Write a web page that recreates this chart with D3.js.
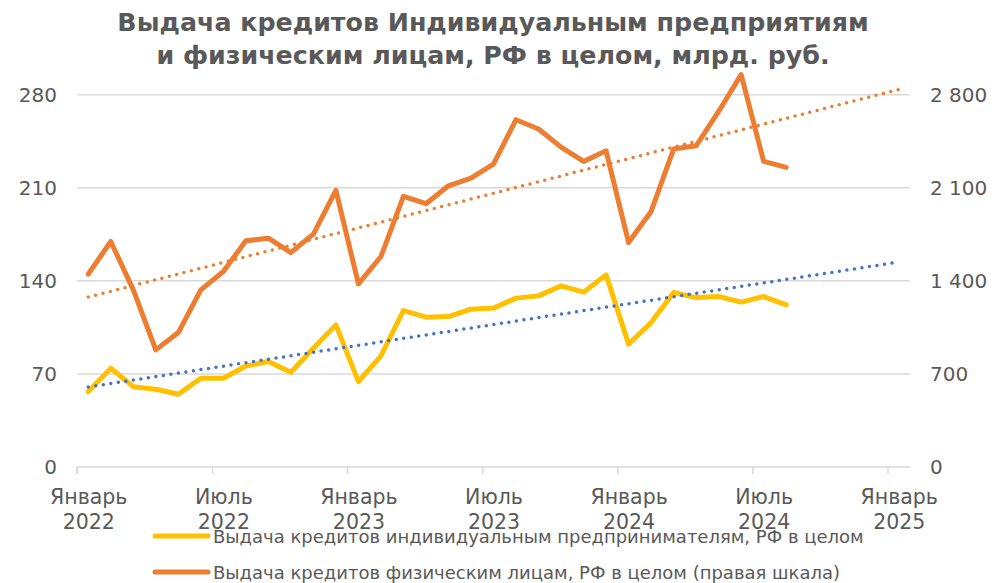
<!DOCTYPE html>
<html><head><meta charset="utf-8">
<script src="https://cdn.jsdelivr.net/npm/d3@7"></script>
<style>
html,body{margin:0;padding:0;background:#fff;}
svg{display:block;font-family:"DejaVu Sans",Verdana,sans-serif;}
</style></head>
<body><svg id="c" width="1000" height="583"></svg>
<script>
// ---- data ----
const titleLines = ["Выдача кредитов Индивидуальным предприятиям", "и физическим лицам, РФ в целом, млрд. руб."];
const months = ["2022-01","2022-02","2022-03","2022-04","2022-05","2022-06","2022-07","2022-08","2022-09","2022-10","2022-11","2022-12",
  "2023-01","2023-02","2023-03","2023-04","2023-05","2023-06","2023-07","2023-08","2023-09","2023-10","2023-11","2023-12",
  "2024-01","2024-02","2024-03","2024-04","2024-05","2024-06","2024-07","2024-08"];
const entrepreneurs = [56.7,74.3,60.4,58.5,54.7,66.8,66.8,76.0,79.3,71.3,89.3,106.9,
  64.2,83.5,117.6,112.7,113.1,118.7,119.5,127.0,128.7,136.2,131.5,144.5,
  92.4,108.6,131.2,127.4,128.2,124.0,128.2,121.9];
const individuals = [1450,1696,1332,881,1011,1332,1470,1701,1721,1613,1751,2080,
  1377,1583,2035,1980,2115,2173,2278,2612,2542,2406,2298,2378,
  1688,1922,2391,2416,2674,2951,2298,2253];
const leftTicks = [0,70,140,210,280];
const rightTicks = [0,700,1400,2100,2800];
const xTickMonths = [0,6,12,18,24,30,36];
const xTickLabels = [["Январь","2022"],["Июль","2022"],["Январь","2023"],["Июль","2023"],["Январь","2024"],["Июль","2024"],["Январь","2025"]];
const trendMonths = 37; // trend forecast through Jan 2025
const legendLabels = ["Выдача кредитов индивидуальным предпринимателям, РФ в целом",
  "Выдача кредитов физическим лицам, РФ в целом (правая шкала)"];

// ---- styles ----
const C_Y = "#FFC000", C_O = "#ED7D31", C_B = "#4472C4", C_GRID = "#D9D9D9", C_TXT = "#595959";

const svg = d3.select("#c");
const x = d3.scaleLinear().domain([0, 37]).range([77, 910]);
const yL = d3.scaleLinear().domain([0, 280]).range([467, 94.7]);
const yR = d3.scaleLinear().domain([0, 2800]).range([467, 94.7]);

// title
svg.append("g").selectAll("text").data(titleLines).join("text")
  .attr("x", 493).attr("y", (d,i)=>31 + i*33)
  .attr("text-anchor","middle").attr("font-weight","bold").attr("font-size",25.3)
  .attr("fill", C_TXT).text(d=>d);

// gridlines
svg.append("g").selectAll("line").data(leftTicks.slice(1)).join("line")
  .attr("x1", x(0)).attr("x2", x(37)).attr("y1", d=>yL(d)).attr("y2", d=>yL(d))
  .attr("stroke", C_GRID).attr("stroke-width", 1.5);

// left axis
const gl = svg.append("g").attr("transform","translate(57,0)")
  .call(d3.axisLeft(yL).tickValues(leftTicks).tickSize(0).tickPadding(0));
gl.select(".domain").remove();
gl.selectAll("text").attr("font-size",20).attr("fill",C_TXT).attr("font-family","DejaVu Sans");

// right axis
const gr = svg.append("g").attr("transform","translate(930,0)")
  .call(d3.axisRight(yR).tickValues(rightTicks).tickSize(0).tickPadding(0)
    .tickFormat(d=>d3.format(",")(d).replace(/,/g," ")));
gr.select(".domain").remove();
gr.selectAll("text").attr("font-size",20).attr("fill",C_TXT).attr("font-family","DejaVu Sans");

// x axis
const gx = svg.append("g").attr("transform",`translate(0,${yL(0)})`)
  .call(d3.axisBottom(x).tickValues(xTickMonths).tickSize(7).tickFormat(""));
gx.select(".domain").attr("stroke",C_GRID).attr("stroke-width",1.5).attr("d",`M${x(0)},7V0H${x(37)}`);
gx.selectAll(".tick line").attr("stroke",C_GRID).attr("stroke-width",1.5);
const halfMonth = x(0.5) - x(0);
gx.selectAll(".tick").each(function(d,i){
  const t = d3.select(this).append("text").attr("fill",C_TXT).attr("font-size",20.5)
    .attr("text-anchor","middle").attr("font-family","DejaVu Sans");
  t.append("tspan").attr("x",halfMonth).attr("y",36.5).text(xTickLabels[i][0]);
  t.append("tspan").attr("x",halfMonth).attr("y",61.5).text(xTickLabels[i][1]);
});

// trend computation (least squares, like Excel linear trendline)
function trend(vals){
  const n = vals.length, xs = d3.range(n);
  const mx = d3.mean(xs), my = d3.mean(vals);
  const b = d3.sum(xs, (xi,i)=>(xi-mx)*(vals[i]-my)) / d3.sum(xs, xi=>(xi-mx)*(xi-mx));
  const a = my - b*mx;
  return [0, trendMonths-1].map(i=>({i, v: a + b*i}));
}

const lineL = d3.line().x(d=>x(d.i+0.5)).y(d=>yL(d.v));
const lineR = d3.line().x(d=>x(d.i+0.5)).y(d=>yR(d.v));

// series
svg.append("path").datum(entrepreneurs.map((v,i)=>({i,v})))
  .attr("d", lineL).attr("fill","none").attr("stroke",C_Y).attr("stroke-width",5)
  .attr("stroke-linejoin","round").attr("stroke-linecap","round");
svg.append("path").datum(individuals.map((v,i)=>({i,v})))
  .attr("d", lineR).attr("fill","none").attr("stroke",C_O).attr("stroke-width",5)
  .attr("stroke-linejoin","round").attr("stroke-linecap","round");

// trendlines
svg.append("path").datum(trend(entrepreneurs)).attr("d", lineL)
  .attr("fill","none").attr("stroke",C_B).attr("stroke-width",3.5)
  .attr("stroke-dasharray","0 7.6").attr("stroke-linecap","round");
svg.append("path").datum(trend(individuals)).attr("d", lineR)
  .attr("fill","none").attr("stroke",C_O).attr("stroke-width",3.5)
  .attr("stroke-dasharray","0 7.6").attr("stroke-linecap","round");

// legend
const lg = svg.append("g").selectAll("g").data(legendLabels).join("g")
  .attr("transform",(d,i)=>`translate(155,${536 + i*36})`);
lg.append("line").attr("x1",0).attr("x2",53).attr("y1",0).attr("y2",0)
  .attr("stroke",(d,i)=>i===0?C_Y:C_O).attr("stroke-width",5).attr("stroke-linecap","round");
lg.append("text").attr("x",58).attr("y",7).attr("font-size",18).attr("fill",C_TXT).text(d=>d);
</script></body></html>
